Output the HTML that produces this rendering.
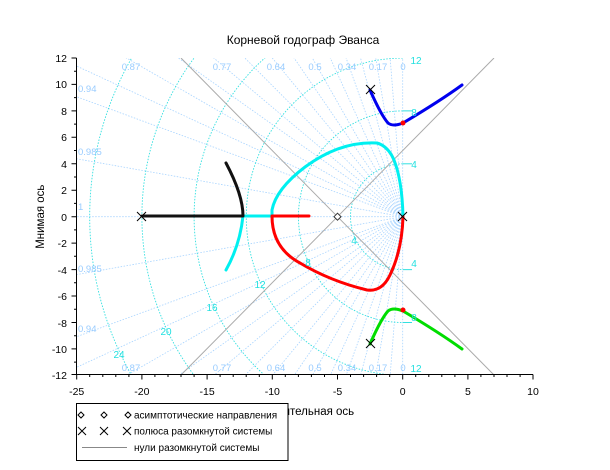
<!DOCTYPE html>
<html><head><meta charset="utf-8"><style>
html,body{margin:0;padding:0;background:#fff;width:610px;height:470px;overflow:hidden}
svg{display:block;font-family:"Liberation Sans",sans-serif}
</style></head><body>
<svg width="610" height="470" viewBox="0 0 610 470" xmlns="http://www.w3.org/2000/svg">
<defs><clipPath id="c"><rect x="76.7" y="58" width="456.4" height="316.7"/></clipPath></defs>
<rect width="610" height="470" fill="#fff"/>
<g clip-path="url(#c)">
 <g stroke="#a8d4ff" stroke-width="0.8" stroke-dasharray="1.5,1.5" fill="none">
  <line x1="402.7" y1="216.7" x2="402.7" y2="58"/><line x1="402.7" y1="216.7" x2="402.7" y2="375"/>
  <line x1="402.7" y1="216.7" x2="76.7" y2="216.7"/>
 </g>
 <g id="dl" stroke="#a8d4ff" stroke-width="0.8" stroke-dasharray="1.5,1.5" fill="none"></g>
 <g stroke="#33e0e0" stroke-width="0.9" stroke-dasharray="1.5,1.5" fill="none">
  <path d="M402.7,163.8 A52.2,52.9 0 0 0 402.7,269.6"/>
  <path d="M402.7,110.9 A104.3,105.8 0 0 0 402.7,322.5"/>
  <path d="M402.7,58.1 A156.5,158.6 0 0 0 402.7,375.3"/>
  <path d="M402.7,5.2 A208.6,211.5 0 0 0 402.7,428.2"/>
  <path d="M402.7,-47.7 A260.8,264.4 0 0 0 402.7,481.1"/>
  <path d="M402.7,-100.6 A313,317.3 0 0 0 402.7,534"/>
 </g>
 <g stroke="#33e0e0" stroke-width="1"><line x1="402.7" y1="163.8" x2="412" y2="163.8"/><line x1="402.7" y1="269.6" x2="412" y2="269.6"/><line x1="402.7" y1="110.9" x2="412" y2="110.9"/><line x1="402.7" y1="322.5" x2="412" y2="322.5"/></g>
 <g stroke="#aaa" stroke-width="1">
  <line x1="337.5" y1="216.7" x2="181" y2="58"/><line x1="337.5" y1="216.7" x2="494" y2="58"/>
  <line x1="337.5" y1="216.7" x2="181" y2="375"/><line x1="337.5" y1="216.7" x2="494" y2="375"/>
 </g>
 <g fill="none" stroke-width="3" stroke-linejoin="round" stroke-linecap="round">
  <path stroke="#0000ee" d="M370,90 Q381,115 388,123 Q393,127 403,123 Q440,101 462,85"/>
  <path stroke="#00dd00" d="M370,344 Q381,319 388,311 Q393,307 403,311 Q440,333 462,349"/>
  <path stroke="#00f0f0" d="M403,216 Q402,180 394,160 Q388,146 377,143 Q340,141 305,167 Q276,189 272,210 L272,216 L243,216"/>
  <path stroke="#00f0f0" d="M243,216 Q240,245 226,270"/>
  <path stroke="#111" d="M142,216 L243,216 Q243,195 226,163"/>
  <path stroke="#ff0000" d="M309,216 L272,216 Q272,248 300,263 Q330,281 367,290 Q382,292 390,275 Q402,250 403,217"/>
 </g>
 <g fill="#ff0000"><circle cx="403" cy="123" r="2.5"/><circle cx="403" cy="310" r="2.5"/></g>
 <g stroke="#000" stroke-width="1">
  <path d="M137,212 l9,9 M146,212 l-9,9"/>
  <path d="M398,212 l9,9 M407,212 l-9,9"/>
  <path d="M366,85 l9,9 M375,85 l-9,9"/>
  <path d="M366,339 l9,9 M375,339 l-9,9"/>
 </g>
 <path d="M337.5,213.2 l3.5,3.5 l-3.5,3.5 l-3.5,-3.5z" fill="#fff" stroke="#333"/>
</g>
<g font-size="9.5" fill="#99ccff">
 <text x="131" y="70" text-anchor="middle">0.87</text><text x="222" y="70" text-anchor="middle">0.77</text><text x="276" y="70" text-anchor="middle">0.64</text><text x="315" y="70" text-anchor="middle">0.5</text><text x="347" y="70" text-anchor="middle">0.34</text><text x="378" y="70" text-anchor="middle">0.17</text><text x="403" y="70" text-anchor="middle">0</text>
 <text x="131" y="371" text-anchor="middle">0.87</text><text x="222" y="371" text-anchor="middle">0.77</text><text x="276" y="371" text-anchor="middle">0.64</text><text x="315" y="371" text-anchor="middle">0.5</text><text x="347" y="371" text-anchor="middle">0.34</text><text x="378" y="371" text-anchor="middle">0.17</text><text x="403" y="371" text-anchor="middle">0</text>
 <text x="78" y="92">0.94</text><text x="78" y="155">0.985</text><text x="78" y="210">1</text><text x="78" y="272">0.985</text><text x="78" y="332">0.94</text>
</g>
<g font-size="10" fill="#22e0e0">
 <text x="416" y="64" text-anchor="middle">12</text><text x="416" y="372" text-anchor="middle">12</text>
 <text x="414" y="116" text-anchor="middle">8</text><text x="414" y="321" text-anchor="middle">8</text>
 <text x="414" y="168" text-anchor="middle">4</text><text x="414" y="267" text-anchor="middle">4</text>
 <text x="354" y="244" text-anchor="middle">4</text><text x="308" y="266" text-anchor="middle">8</text><text x="260" y="288" text-anchor="middle">12</text><text x="212" y="311" text-anchor="middle">16</text><text x="166" y="335" text-anchor="middle">20</text><text x="119" y="358" text-anchor="middle">24</text>
</g>
<g stroke="#000" stroke-width="1" fill="none">
 <line x1="76.7" y1="374.5" x2="533" y2="374.5"/>
 <line x1="76.5" y1="58" x2="76.5" y2="374.5"/>
 <path d="M76.7,374.5v5M141.9,374.5v5M207.1,374.5v5M272.3,374.5v5M337.5,374.5v5M402.7,374.5v5M467.9,374.5v5M533,374.5v5"/>
 <path d="M89.7,374.5v2.5M102.8,374.5v2.5M115.8,374.5v2.5M128.9,374.5v2.5M154.9,374.5v2.5M168,374.5v2.5M181,374.5v2.5M194.1,374.5v2.5M220.1,374.5v2.5M233.2,374.5v2.5M246.2,374.5v2.5M259.3,374.5v2.5M285.3,374.5v2.5M298.4,374.5v2.5M311.4,374.5v2.5M324.5,374.5v2.5M350.5,374.5v2.5M363.6,374.5v2.5M376.6,374.5v2.5M389.7,374.5v2.5M415.7,374.5v2.5M428.8,374.5v2.5M441.8,374.5v2.5M454.9,374.5v2.5M480.9,374.5v2.5M494,374.5v2.5M507,374.5v2.5M520.1,374.5v2.5"/>
 <path d="M76.5,58h-5M76.5,84.4h-5M76.5,110.9h-5M76.5,137.3h-5M76.5,163.8h-5M76.5,190.2h-5M76.5,216.7h-5M76.5,243.1h-5M76.5,269.6h-5M76.5,296h-5M76.5,322.5h-5M76.5,348.9h-5M76.5,374.5h-5"/>
 <path d="M76.5,71.2h-2.5M76.5,97.6h-2.5M76.5,124.1h-2.5M76.5,150.5h-2.5M76.5,177h-2.5M76.5,203.4h-2.5M76.5,229.9h-2.5M76.5,256.3h-2.5M76.5,282.8h-2.5M76.5,309.2h-2.5M76.5,335.7h-2.5M76.5,362.1h-2.5"/>
</g>
<g font-size="10.5" fill="#000">
 <g text-anchor="middle"><text x="76.7" y="395">-25</text><text x="141.9" y="395">-20</text><text x="207.1" y="395">-15</text><text x="272.3" y="395">-10</text><text x="337.5" y="395">-5</text><text x="402.7" y="395">0</text><text x="467.9" y="395">5</text><text x="533" y="395">10</text></g>
 <g text-anchor="end"><text x="67" y="62">12</text><text x="67" y="88">10</text><text x="67" y="115">8</text><text x="67" y="141">6</text><text x="67" y="168">4</text><text x="67" y="194">2</text><text x="67" y="221">0</text><text x="67" y="247">-2</text><text x="67" y="274">-4</text><text x="67" y="300">-6</text><text x="67" y="327">-8</text><text x="67" y="353">-10</text><text x="67" y="379">-12</text></g>
</g>
<text x="303" y="44" font-size="12" text-anchor="middle">Корневой годограф Эванса</text>
<text x="44" y="216.7" font-size="11.5" text-anchor="middle" transform="rotate(-90 44 216.7)">Мнимая ось</text>
<text x="300" y="415" font-size="11.5" text-anchor="middle">Действительная ось</text>
<rect x="76.5" y="403.5" width="211.5" height="57" fill="#fff" stroke="#000"/>
<g stroke="#000" fill="none">
 <path d="M81,412l3,3l-3,3l-3,-3z M104,412l3,3l-3,3l-3,-3z M128,412l3,3l-3,3l-3,-3z"/>
 <path d="M78,427l8,8M86,427l-8,8 M100,427l8,8M108,427l-8,8 M123,427l8,8M131,427l-8,8"/>
</g>
<line x1="82" y1="447.5" x2="127" y2="447.5" stroke="#888"/>
<g font-size="10" fill="#000"><text x="134" y="418.5">асимптотические направления</text><text x="134" y="434.5">полюса разомкнутой системы</text><text x="134" y="451">нули разомкнутой системы</text></g>
<script>
var g=document.getElementById('dl'),z=[0.17,0.34,0.5,0.64,0.77,0.87,0.94,0.985,0.08,0.26,0.42,0.57,0.71,0.82,0.91];
z.forEach(function(v){var t=Math.acos(v),L=40,dx=-Math.cos(t)*L*13.04,dy=Math.sin(t)*L*13.22;
['-','+'].forEach(function(s){var l=document.createElementNS('http://www.w3.org/2000/svg','line');l.setAttribute('x1',402.7);l.setAttribute('y1',216.7);l.setAttribute('x2',402.7+dx);l.setAttribute('y2',s=='-'?216.7-dy:216.7+dy);g.appendChild(l);});});
</script>
</svg>
</body></html>
